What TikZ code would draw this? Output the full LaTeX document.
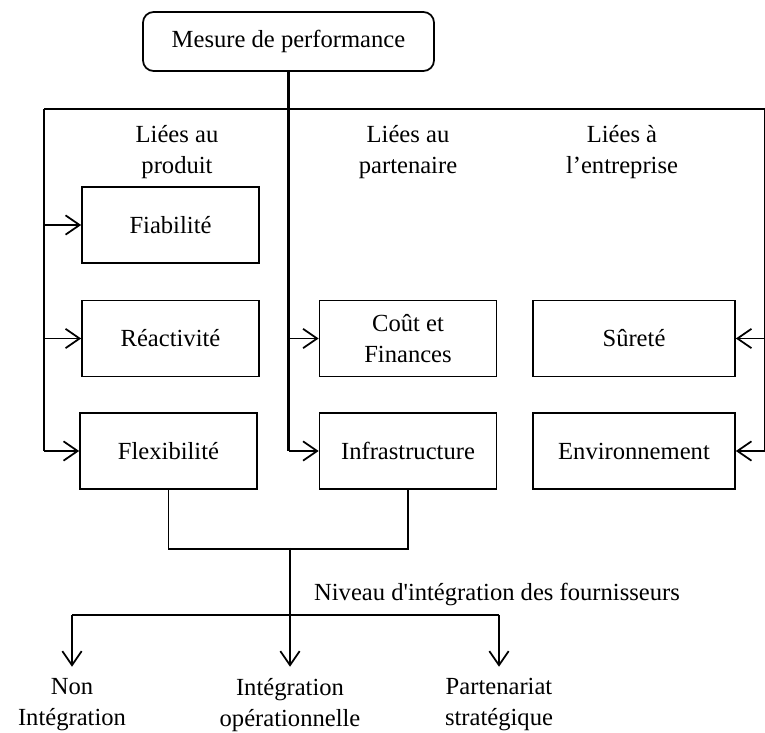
\documentclass[tikz,border=0pt]{standalone}
\usepackage{fontspec}
\setmainfont{Liberation Serif}
\usetikzlibrary{arrows.meta}

\tikzset{
  boite/.style={draw, line width=1pt, minimum width=3.54cm, minimum height=1.52cm, align=center, inner sep=2pt},
  boitelarge/.style={boite, minimum width=4.04cm},
  rubrique/.style={align=center},
  trait/.style={line width=1.5pt},
  mince/.style={line width=1pt},
  fleche/.style={line width=1pt, -{Straight Barb[length=8pt,width=11pt]}},
}

\begin{document}
\begin{tikzpicture}[x=0.02cm, y=-0.02cm, font=\fontsize{14}{17.5}\selectfont]
  \useasboundingbox (0,0) rectangle (765,733);
  % haut
  \node[draw, rounded corners=6pt, line width=1pt, minimum width=5.82cm, minimum height=1.18cm] (mesure) at (288.5,41.5) {Mesure de performance};
  \coordinate (g) at (44,109);
  \coordinate (d) at (765,109);
  \node[rubrique] (produit) at (177,152) {Liées au\\produit};
  \node[rubrique] (partenaire) at (408,152) {Liées au\\partenaire};
  \node[rubrique] (entreprise) at (622,152) {Liées à\\l’entreprise};
  % mesures
  \node[boite] (fia) at (170.5,225) {Fiabilité};
  \node[boite] (rea) at (170.5,338.5) {Réactivité};
  \node[boite] (flex) at (168.5,451) {Flexibilité};
  \node[boite] (cout) at (408,338.5) {Coût et\\Finances};
  \node[boite] (infra) at (408,451) {Infrastructure};
  \node[boitelarge] (sur) at (634,338.5) {Sûreté};
  \node[boitelarge] (env) at (634,451) {Environnement};
  % liaisons
  \draw[trait] (g) -- (d);
  \draw[trait] (mesure.south) -- (mesure.south |- infra.west);
  \draw[trait] (g) -- (g |- flex.west);
  \draw[trait] (d) -- (d |- env.east);
  \foreach \b in {fia,rea,flex}
    \draw[fleche] (g |- \b.west) -- (\b.west);
  \foreach \b in {cout,infra}
    \draw[fleche] (mesure.south |- \b.west) -- (\b.west);
  \foreach \b in {sur,env}
    \draw[fleche] (d |- \b.east) -- (\b.east);
  % bas
  \draw[mince] (flex.south) -- ++(0,59) -| (infra.south);
  \coordinate (jonction) at (290,548);
  \coordinate (barre) at (290,615);
  \node (niveau) at (497,594) {Niveau d\textquotesingle intégration des fournisseurs};
  \node[rubrique, anchor=north] (non) at (72,672) {Non\\Intégration};
  \node[rubrique, anchor=north] (oper) at (290,672) {Intégration\\opérationnelle};
  \node[rubrique, anchor=north] (part) at (499,672) {Partenariat\\stratégique};
  \draw[mince] (non.north |- barre) -- (part.north |- barre);
  \draw[fleche, shorten >=3pt] (jonction) -- (oper.north);
  \draw[fleche, shorten >=3pt] (non.north |- barre) -- (non.north);
  \draw[fleche, shorten >=3pt] (part.north |- barre) -- (part.north);
\end{tikzpicture}
\end{document}
